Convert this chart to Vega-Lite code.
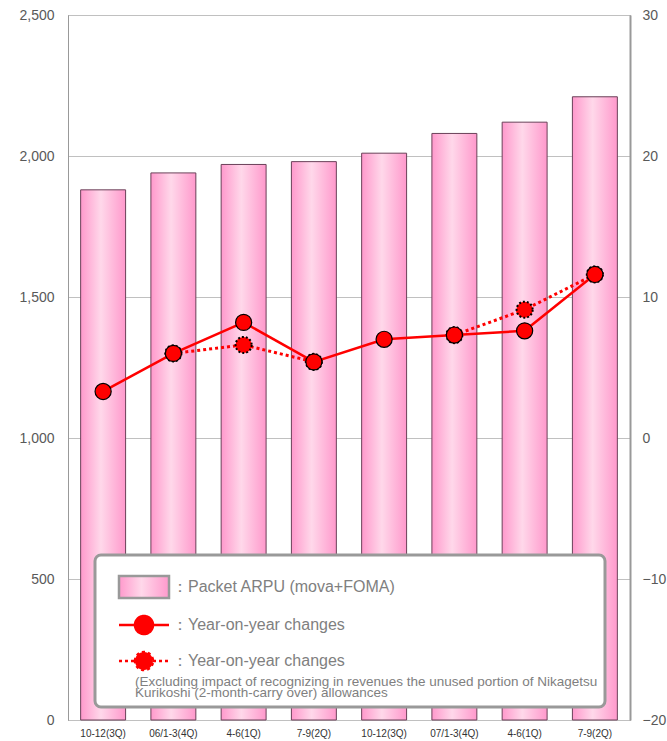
{
  "$schema": "https://vega.github.io/schema/vega-lite/v6.json",
  "width": 562,
  "height": 705,
  "autosize": {"type": "none"},
  "padding": {"left": 68, "top": 15, "right": 37, "bottom": 21},
  "background": "white",
  "config": {
    "view": {"stroke": "#8c8c8c", "strokeWidth": 1},
    "font": "Liberation Sans",
    "axis": {"labelFont": "Liberation Sans", "ticks": false, "titleFontSize": 0}
  },
  "datasets": {
    "bars": [
      {"period": "FY05 10-12(3Q)", "arpu": 1880},
      {"period": "FY05 06/1-3(4Q)", "arpu": 1940},
      {"period": "FY06 4-6(1Q)", "arpu": 1970},
      {"period": "FY06 7-9(2Q)", "arpu": 1980},
      {"period": "FY06 10-12(3Q)", "arpu": 2010},
      {"period": "FY06 07/1-3(4Q)", "arpu": 2080},
      {"period": "FY07 4-6(1Q)", "arpu": 2120},
      {"period": "FY07 7-9(2Q)", "arpu": 2210}
    ],
    "yoy": [
      {"period": "FY05 10-12(3Q)", "yoy": 3.3, "series": "solid", "seg": "s"},
      {"period": "FY05 06/1-3(4Q)", "yoy": 6.0, "series": "solid", "seg": "s"},
      {"period": "FY06 4-6(1Q)", "yoy": 8.2, "series": "solid", "seg": "s"},
      {"period": "FY06 7-9(2Q)", "yoy": 5.4, "series": "solid", "seg": "s"},
      {"period": "FY06 10-12(3Q)", "yoy": 7.0, "series": "solid", "seg": "s"},
      {"period": "FY06 07/1-3(4Q)", "yoy": 7.3, "series": "solid", "seg": "s"},
      {"period": "FY07 4-6(1Q)", "yoy": 7.6, "series": "solid", "seg": "s"},
      {"period": "FY07 7-9(2Q)", "yoy": 11.6, "series": "solid", "seg": "s"},
      {"period": "FY05 06/1-3(4Q)", "yoy": 6.0, "series": "dotted", "seg": "d1"},
      {"period": "FY06 4-6(1Q)", "yoy": 6.6, "series": "dotted", "seg": "d1"},
      {"period": "FY06 7-9(2Q)", "yoy": 5.4, "series": "dotted", "seg": "d1"},
      {"period": "FY06 07/1-3(4Q)", "yoy": 7.3, "series": "dotted", "seg": "d2"},
      {"period": "FY07 4-6(1Q)", "yoy": 9.1, "series": "dotted", "seg": "d2"},
      {"period": "FY07 7-9(2Q)", "yoy": 11.6, "series": "dotted", "seg": "d2"}
    ]
  },
  "encoding": {
    "x": {
      "field": "period", "type": "nominal", "sort": null,
      "scale": {"paddingInner": 0.36, "paddingOuter": 0.18},
      "axis": {
        "title": null, "labelAngle": 0, "domain": false, "labelFontSize": 10,
        "labelColor": "#333333", "labelPadding": 8,
        "labelExpr": "slice(datum.value, 5)"
      }
    }
  },
  "layer": [
    {
      "data": {"name": "bars"},
      "mark": {
        "type": "bar",
        "stroke": "#6a4058",
        "strokeWidth": 1,
        "fill": {
          "gradient": "linear", "x1": 0, "y1": 0, "x2": 1, "y2": 0,
          "stops": [
            {"offset": 0, "color": "#ff99cc"},
            {"offset": 0.45, "color": "#ffd8ea"},
            {"offset": 1, "color": "#ff99cc"}
          ]
        }
      },
      "encoding": {
        "y": {
          "field": "arpu", "type": "quantitative",
          "scale": {"domain": [0, 2500], "nice": false},
          "axis": {
            "title": null, "values": [0, 500, 1000, 1500, 2000, 2500],
            "format": ",d", "labelFontSize": 14, "labelColor": "#595959",
            "labelPadding": 14, "domainColor": "#999999",
            "grid": true, "gridColor": "#c0c0c0"
          }
        }
      }
    },
    {
      "data": {"name": "yoy"},
      "encoding": {
        "y": {
          "field": "yoy", "type": "quantitative",
          "scale": {"domain": [-20, 30], "nice": false},
          "axis": {
            "title": null, "orient": "right", "values": [-20, -10, 0, 10, 20, 30],
            "labelFontSize": 14, "labelColor": "#595959", "labelPadding": 12,
            "domainColor": "#999999", "domainWidth": 2, "grid": false
          }
        }
      },
      "layer": [
        {
          "transform": [{"filter": "datum.series == 'dotted'"}],
          "mark": {"type": "line", "strokeWidth": 3, "strokeDash": [3, 3]},
          "encoding": {
            "detail": {"field": "seg"},
            "color": {
              "field": "series", "type": "nominal",
              "scale": {"domain": ["bar", "solid", "dotted"], "range": ["#999999", "#ff0000", "#ff0000"]},
              "legend": {
                "orient": "none", "legendX": 27, "legendY": 540,
                "direction": "vertical",
                "title": [
                  "(Excluding impact of recognizing in revenues the unused portion of Nikagetsu\u00a0\u00a0\u00a0\u00a0\u00a0\u00a0\u00a0\u00a0\u00a0\u00a0\u00a0\u00a0\u00a0\u00a0\u00a0\u00a0\u00a0\u00a0\u00a0\u00a0",
                  "Kurikoshi (2-month-carry over) allowances"
                ],
                "titleOrient": "bottom", "titleFontSize": 13.5, "titleFontWeight": "normal",
                "titleColor": "#808080", "titleLineHeight": 11, "titlePadding": 0, "titleLimit": 1000,
                "labelExpr": "datum.value == 'bar' ? '：Packet ARPU (mova+FOMA)' : '：Year-on-year changes'",
                "labelFontSize": 16, "labelColor": "#808080", "labelOffset": 20, "labelLimit": 500,
                "symbolSize": 900, "symbolOffset": 34, "rowPadding": 0, "padding": 7,
                "fillColor": "white", "strokeColor": "#999999", "cornerRadius": 6,
                "encode": {
                  "legend": {"update": {"strokeWidth": {"value": 3}}},
                  "labels": {"update": {"dy": {"signal": "datum.value == 'bar' ? 17 : 13"}}},
                  "title": {"update": {"dx": {"value": 33}}},
                  "symbols": {
                    "update": {
                      "shape": {"signal": "datum.value == 'bar' ? 'M-1.667,0.4H1.667V1.867H-1.667Z' : 'M-1.667,0.867H-0.6M0.6,0.867H1.667M-0.6,0.867A0.6,0.6 0 1,1 0.6,0.867A0.6,0.6 0 1,1 -0.6,0.867Z'"},
                      "fill": {"signal": "datum.value == 'bar' ? {gradient: 'linear', x1: 0, y1: 0, x2: 1, y2: 0, stops: [{offset: 0, color: '#ff99cc'}, {offset: 0.45, color: '#ffd8ea'}, {offset: 1, color: '#ff99cc'}]} : '#ff0000'"},
                      "strokeWidth": {"signal": "datum.value == 'bar' ? 2.5 : 2.5"},
                      "strokeDash": {"signal": "datum.value == 'dotted' ? [3, 3] : [1, 0]"},
                      "opacity": {"value": 1},
                      "fillOpacity": {"value": 1},
                      "strokeOpacity": {"value": 1}
                    }
                  }
                }
              }
            }
          }
        },
        {
          "transform": [{"filter": "datum.series == 'dotted'"}],
          "mark": {"type": "point", "shape": "circle", "filled": true, "fill": "#ff0000", "stroke": "#000000", "strokeWidth": 2, "strokeDash": [2, 2], "size": 260, "opacity": 1}
        },
        {
          "transform": [{"filter": "datum.series == 'solid'"}],
          "mark": {"type": "line", "strokeWidth": 2.5},
          "encoding": {
            "detail": {"field": "seg"},
            "color": {"field": "series", "type": "nominal"}
          }
        },
        {
          "transform": [{"filter": "datum.series == 'solid'"}],
          "mark": {"type": "point", "shape": "circle", "filled": true, "fill": "#ff0000", "stroke": "#000000", "strokeWidth": 1.2, "size": 260, "opacity": 1}
        }
      ]
    }
  ],
  "resolve": {"scale": {"y": "independent"}}
}
